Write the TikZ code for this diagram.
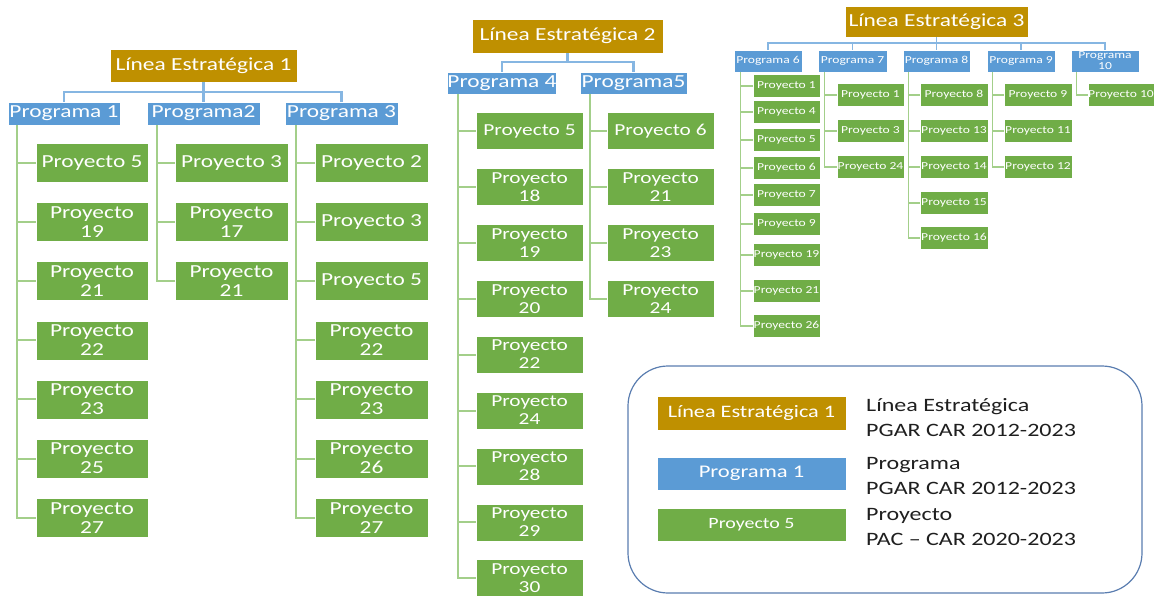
\documentclass[tikz,border=0pt]{standalone}
\usepackage{fontspec}
\newfontfamily\bx[FakeStretch=1.27]{Carlito}
\definecolor{gold}{HTML}{BF9000}
\definecolor{pblue}{HTML}{5B9BD5}
\definecolor{pgreen}{HTML}{70AD47}
\definecolor{lblue}{HTML}{86B6E2}
\definecolor{lgreen}{HTML}{A3CF8A}
\definecolor{legc}{HTML}{5A7DB0}
\begin{document}
\begin{tikzpicture}[x=1pt,y=-1pt,
  box/.style={draw=white, line width=0.6pt, text=white, inner sep=0pt, align=center},
  big/.style={font=\bx\fontsize{18.4}{19}\selectfont},
  mid/.style={font=\bx\fontsize{16.8}{18}\selectfont},
  sml/.style={font=\bx\fontsize{10.7}{11}\selectfont},
  lin/.style={box, fill=gold, big},
  prg/.style={box, fill=pblue},
  pry/.style={box, fill=pgreen},
  bl/.style={draw=lblue, line width=2.2pt},
  blt/.style={draw=lblue, line width=1.6pt},
  gl/.style={draw=lgreen, line width=2pt},
  glt/.style={draw=lgreen, line width=1.5pt}]
\useasboundingbox (0,0) rectangle (1154,596);

% ---------------- Linea 1 ----------------
\node[lin, minimum width=187pt, minimum height=33pt] (L1) at (203.5,65.5) {Línea Estratégica 1};
\node[prg, big, minimum width=112pt, minimum height=23pt] (P1) at (64,113.5) {Programa 1};
\node[prg, big, minimum width=113pt, minimum height=23pt] (P2) at (203.5,113.5) {Programa2};
\node[prg, big, minimum width=113pt, minimum height=23pt] (P3) at (341.5,113.5) {Programa 3};
\foreach \p in {P1,P2,P3} \draw[bl] (L1.south) -- ++(0,10) -| (\p.north);

\foreach \t [count=\i] in {{Proyecto 5},{Proyecto\\19},{Proyecto\\21},{Proyecto\\22},{Proyecto\\23},{Proyecto\\25},{Proyecto\\27}} {
  \node[pry, big, minimum width=112pt, minimum height=39pt] (a\i) at (92,{163+59.1*(\i-1)}) {\t};
  \draw[gl] ([xshift=9pt]P1.south west) |- (a\i.west);
}
\foreach \t [count=\i] in {{Proyecto 3},{Proyecto\\17},{Proyecto\\21}} {
  \node[pry, big, minimum width=113pt, minimum height=39pt] (b\i) at (231.5,{163+59.1*(\i-1)}) {\t};
  \draw[gl] ([xshift=10pt]P2.south west) |- (b\i.west);
}
\foreach \t [count=\i] in {{Proyecto 2},{Proyecto 3},{Proyecto 5},{Proyecto\\22},{Proyecto\\23},{Proyecto\\26},{Proyecto\\27}} {
  \node[pry, big, minimum width=113pt, minimum height=39pt] (c\i) at (371.5,{163+59.1*(\i-1)}) {\t};
  \draw[gl] ([xshift=11pt]P3.south west) |- (c\i.west);
}

% ---------------- Linea 2 ----------------
\node[lin, minimum width=191pt, minimum height=34pt] (L2) at (567.5,36) {Línea Estratégica 2};
\node[prg, big, minimum width=108pt, minimum height=22pt] (P4) at (502,83) {Programa 4};
\node[prg, big, minimum width=107pt, minimum height=22pt] (P5) at (633.5,83) {Programa5};
\foreach \p in {P4,P5} \draw[bl] (L2.south) -- ++(0,9) -| (\p.north);

\foreach \t [count=\i] in {{Proyecto 5},{Proyecto\\18},{Proyecto\\19},{Proyecto\\20},{Proyecto\\22},{Proyecto\\24},{Proyecto\\28},{Proyecto\\29},{Proyecto\\30}} {
  \node[pry, mid, minimum width=107pt, minimum height=37pt] (d\i) at (529.5,{131+55.9*(\i-1)}) {\t};
  \draw[gl] ([xshift=11pt]P4.south west) |- (d\i.west);
}
\foreach \t [count=\i] in {{Proyecto 6},{Proyecto\\21},{Proyecto\\23},{Proyecto\\24}} {
  \node[pry, mid, minimum width=107pt, minimum height=37pt] (e\i) at (660.5,{131+56*(\i-1)}) {\t};
  \draw[gl] ([xshift=10pt]P5.south west) |- (e\i.west);
}

% ---------------- Linea 3 ----------------
\node[lin, minimum width=183pt, minimum height=31pt] (L3) at (936.5,21.5) {Línea Estratégica 3};
\node[prg, sml, minimum width=68pt, minimum height=22pt] (P6) at (768,61) {Programa 6};
\node[prg, sml, minimum width=69pt, minimum height=22pt] (P7) at (852.5,61) {Programa 7};
\node[prg, sml, minimum width=67pt, minimum height=22pt] (P8) at (936.5,61) {Programa 8};
\node[prg, sml, minimum width=68pt, minimum height=22pt] (P9) at (1021,61) {Programa 9};
\node[prg, sml, minimum width=68pt, minimum height=22pt] (P10) at (1105,61) {Programa\\10};
\foreach \p in {P6,P7,P8,P9,P10} \draw[blt] (L3.south) -- ++(0,6) -| (\p.north);

\foreach \n/\yy [count=\i] in {1/86,4/112,5/140,6/168,7/195,9/224,19/255,21/291,26/326} {
  \node[pry, sml, minimum width=67pt, minimum height=23pt] (f\i) at (786.5,\yy) {Proyecto \n};
  \draw[glt] ([xshift=7pt]P6.south west) |- (f\i.west);
}
\foreach \n/\yy [count=\i] in {1/95,3/131,24/167} {
  \node[pry, sml, minimum width=67pt, minimum height=23pt] (g\i) at (870.5,\yy) {Proyecto \n};
  \draw[glt] ([xshift=7pt]P7.south west) |- (g\i.west);
}
\foreach \n/\yy [count=\i] in {8/95,13/131,14/167,15/203,16/238} {
  \node[pry, sml, minimum width=68pt, minimum height=23pt] (h\i) at (954,\yy) {Proyecto \n};
  \draw[glt] ([xshift=6pt]P8.south west) |- (h\i.west);
}
\foreach \n/\yy [count=\i] in {9/95,11/131,12/167} {
  \node[pry, sml, minimum width=68pt, minimum height=23pt] (k\i) at (1038,\yy) {Proyecto \n};
  \draw[glt] ([xshift=6pt]P9.south west) |- (k\i.west);
}
\node[pry, sml, minimum width=66pt, minimum height=23pt] (m1) at (1121,95) {Proyecto 10};
\draw[glt] ([xshift=6pt]P10.south west) |- (m1.west);

% ---------------- Legend ----------------
\draw[draw=legc, line width=1.2pt, rounded corners=40pt, fill=white] (628,366) rectangle (1142,593);
\node[lin, font=\bx\fontsize{17.5}{19}\selectfont, minimum width=189pt, minimum height=34pt] (xl) at (751.5,413) {Línea Estratégica 1};
\node[prg, font=\bx\fontsize{17.8}{19}\selectfont, minimum width=189pt, minimum height=33pt] (xp) at (751.5,473.5) {Programa 1};
\node[pry, font=\bx\fontsize{15.7}{17}\selectfont, minimum width=189pt, minimum height=33pt] (xy) at (751.5,524.5) {Proyecto 5};
\tikzset{lt/.style={anchor=west, align=left, inner sep=0pt, text=black!88, font=\bx\fontsize{18.9}{25}\selectfont}}
\node[lt] (tl) at (866,418) {Línea Estratégica\\PGAR CAR 2012-2023};
\node[lt] (tp) at (866,476) {Programa\\PGAR CAR 2012-2023};
\node[lt] (ty) at (866,527) {Proyecto\\PAC – CAR 2020-2023};
\end{tikzpicture}
\end{document}
